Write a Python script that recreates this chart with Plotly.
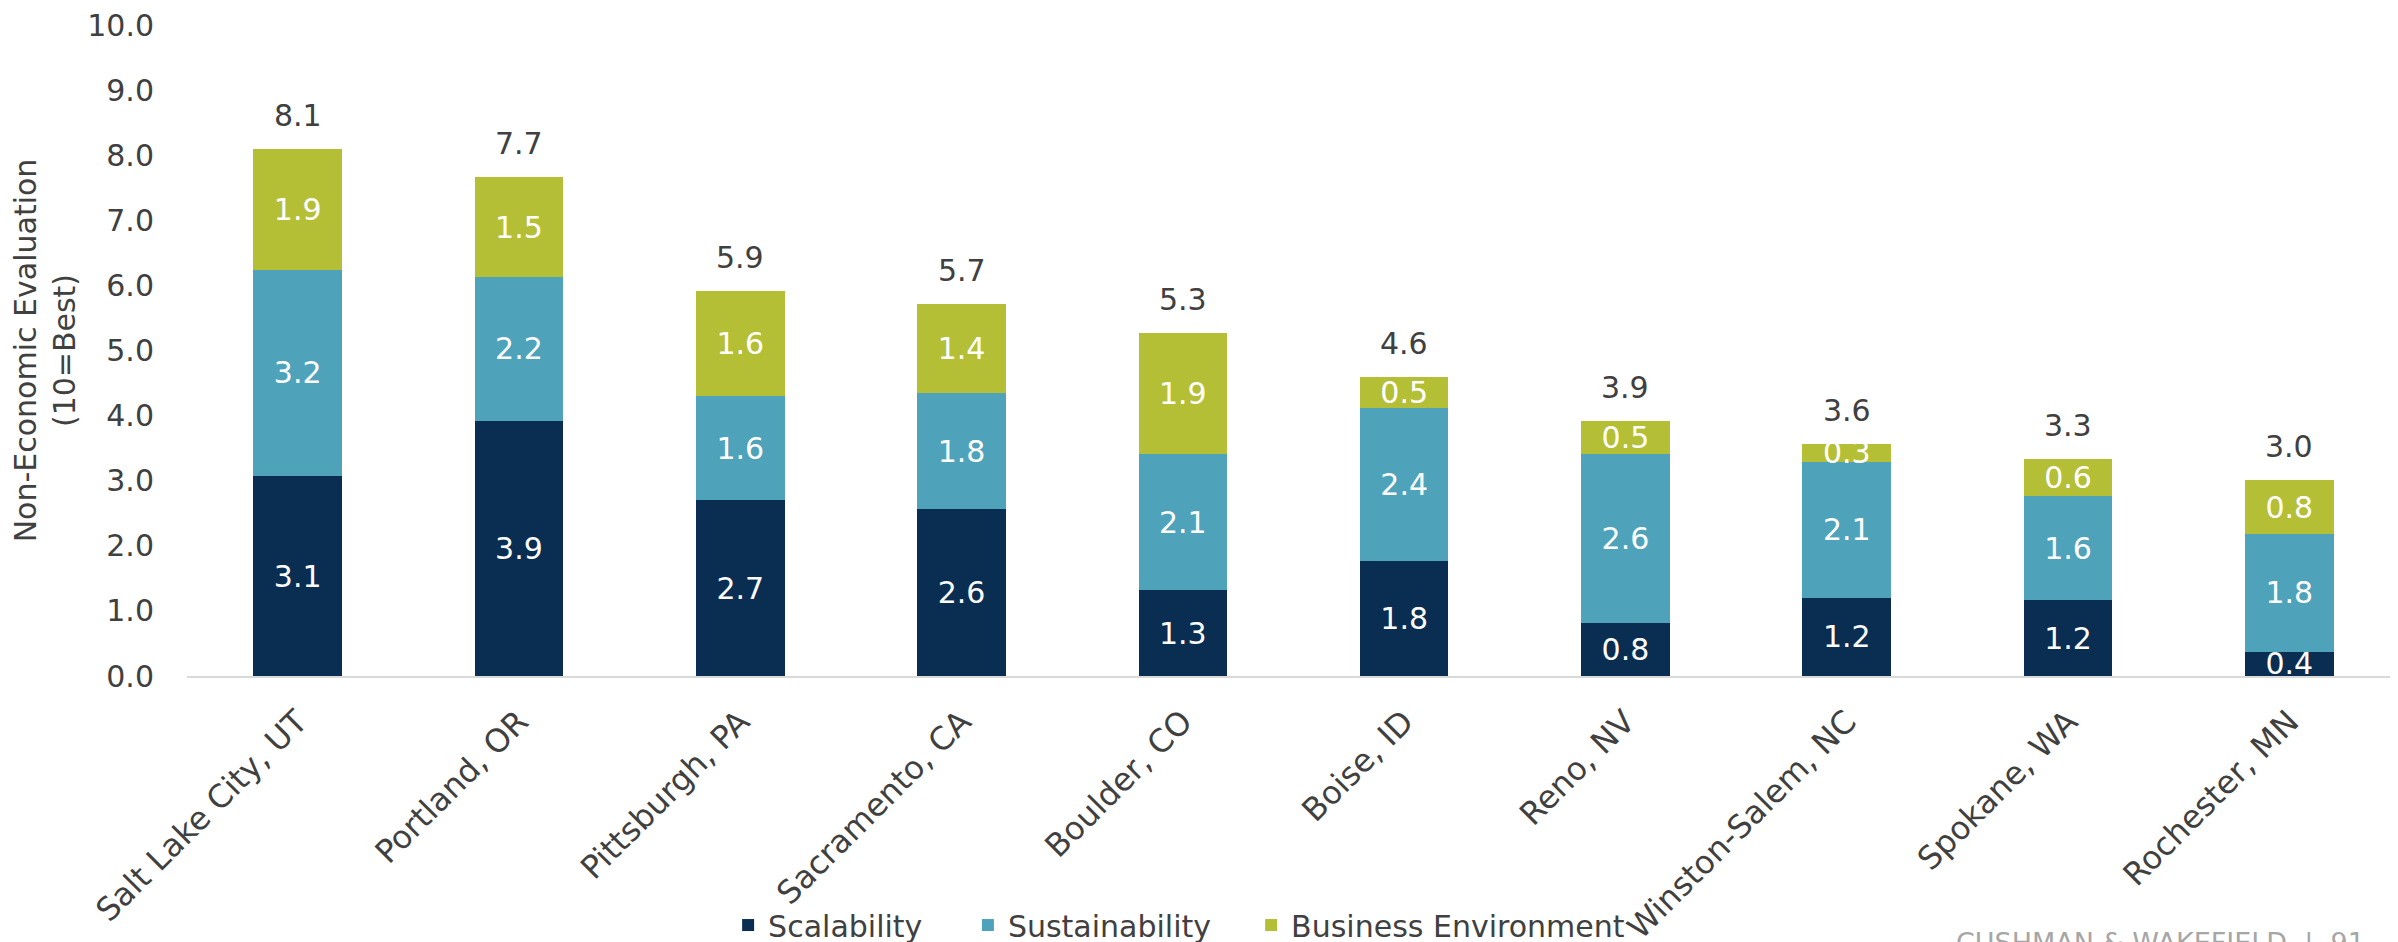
import plotly.graph_objects as go

cities = ["Salt Lake City, UT", "Portland, OR", "Pittsburgh, PA", "Sacramento, CA",
          "Boulder, CO", "Boise, ID", "Reno, NV", "Winston-Salem, NC", "Spokane, WA",
          "Rochester, MN"]
scalability = [3.07, 3.92, 2.70, 2.56, 1.32, 1.76, 0.82, 1.20, 1.16, 0.37]
sustainability = [3.17, 2.21, 1.60, 1.78, 2.09, 2.36, 2.59, 2.09, 1.61, 1.81]
business_env = [1.86, 1.53, 1.62, 1.37, 1.86, 0.48, 0.50, 0.28, 0.56, 0.83]
y_ticks = [0, 1, 2, 3, 4, 5, 6, 7, 8, 9, 10]

totals = [a + b + c for a, b, c in zip(scalability, sustainability, business_env)]

FONT = "DejaVu Sans"
TXT = "#404040"
FS = 30

series = [
    ("Scalability", scalability, "#0a2d52", "legend", 0.3003),
    ("Sustainability", sustainability, "#4ea3bb", "legend2", 0.4003),
    ("Business Environment", business_env, "#b5bf36", "legend3", 0.5184),
]

fig = go.Figure()
legend_layouts = {}
for name, vals, color, lg, lx in series:
    fig.add_trace(go.Bar(
        x=cities, y=vals, name=name, legend=lg,
        marker=dict(color=color, line=dict(width=0)),
        text=[f"{v:.1f}" for v in vals],
        textposition="inside", insidetextanchor="middle",
        textangle=0, constraintext="none",
        textfont=dict(family=FONT, size=FS, color="white"),
        hoverinfo="skip",
    ))
    legend_layouts[lg] = dict(orientation="h", xref="container", yref="container",
                              x=lx, xanchor="left", y=0.0265, yanchor="middle",
                              bgcolor="rgba(0,0,0,0)",
                              font=dict(family=FONT, size=FS, color=TXT))

for c, t in zip(cities, totals):
    fig.add_annotation(x=c, y=t, text=f"{t:.1f}", showarrow=False,
                       yanchor="bottom", yshift=14,
                       font=dict(family=FONT, size=FS, color=TXT))

fig.add_annotation(xref="paper", yref="paper", x=0.985, y=-0.3825,
                   xanchor="right", yanchor="top", showarrow=False,
                   text="CUSHMAN & WAKEFIELD  |  91",
                   font=dict(family=FONT, size=27, color="#a6a6a6"))

fig.update_layout(
    width=2398, height=942,
    margin=dict(l=179, r=6, t=17, b=274, autoexpand=False),
    barmode="stack", bargap=0.6,
    plot_bgcolor="white", paper_bgcolor="white",
    font=dict(family=FONT, size=FS, color=TXT),
    showlegend=True,
    xaxis=dict(showline=True, linecolor="#d9d9d9", linewidth=2,
               tickangle=-45, ticks="outside", ticklen=12,
               tickcolor="rgba(0,0,0,0)", showgrid=False, zeroline=False,
               tickfont=dict(family=FONT, size=32, color=TXT), automargin=False),
    yaxis=dict(range=[0, 10], tickvals=y_ticks, tickformat=".1f",
               showgrid=False, zeroline=False, showline=False,
               ticks="outside", ticklen=26, tickcolor="rgba(0,0,0,0)",
               ticklabeloverflow="allow",
               tickfont=dict(family=FONT, size=FS, color=TXT), automargin=False,
               title=dict(text="Non-Economic Evaluation<br>(10=Best)",
                          font=dict(family=FONT, size=FS, color=TXT), standoff=15)),
    **legend_layouts,
)

fig.write_html("out.html")
